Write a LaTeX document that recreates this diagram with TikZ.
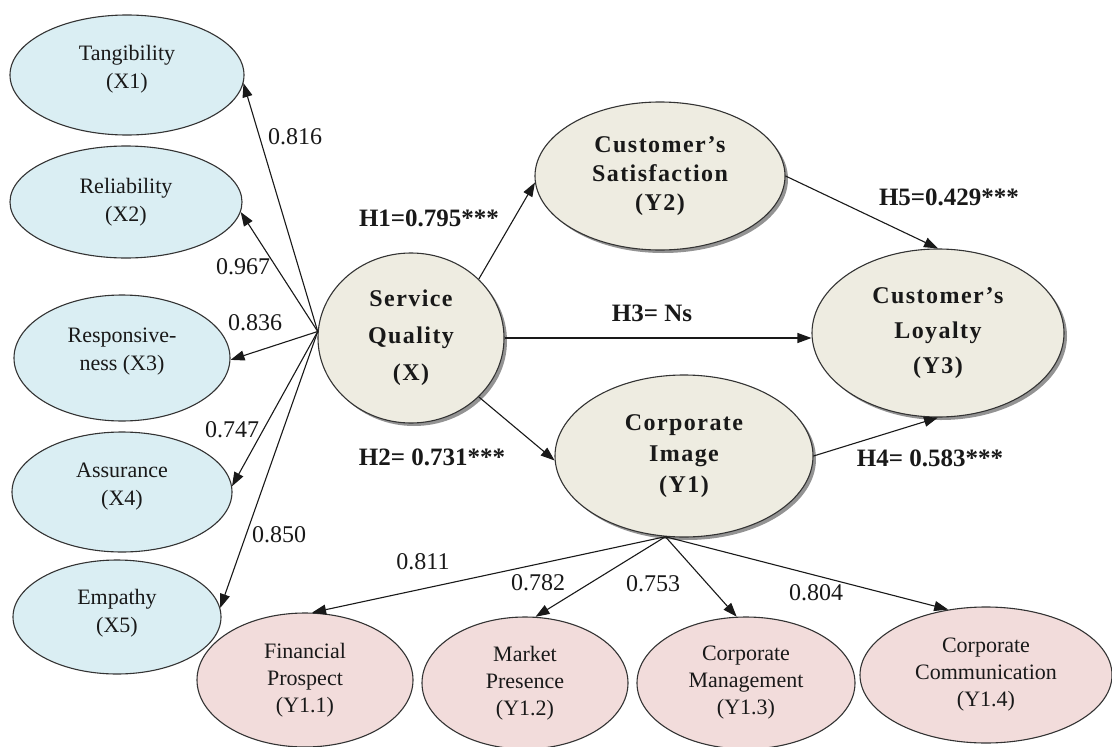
\documentclass[tikz,border=0pt]{standalone}
\usepackage{fontspec}
\setmainfont{Liberation Serif}
\newfontfamily\spacedbf[LetterSpace=6]{Liberation Serif}
\usetikzlibrary{arrows.meta,shapes.geometric,shadows}
\definecolor{blueF}{HTML}{DAEEF3}
\definecolor{beigeF}{HTML}{EEECE1}
\definecolor{pinkF}{HTML}{F2DCDB}
\begin{document}
\begin{tikzpicture}[x=1pt,y=-1pt,
  base/.style={ellipse,draw=black!80,line width=1.1pt,inner sep=0pt,align=center,text=black!90},
  xnode/.style={base,fill=blueF,font=\fontsize{22}{28}\selectfont},
  ynode/.style={base,fill=pinkF,font=\fontsize{22}{27}\selectfont},
  latent/.style={base,fill=beigeF,drop shadow={shadow xshift=3pt,shadow yshift=-3pt,fill=black!70,opacity=0.6},font=\spacedbf\bfseries\fontsize{24}{#1}\selectfont},
  arr/.style={-{Triangle[length=14pt,width=10pt]},line width=1.1pt,draw=black!90},
  load/.style={font=\fontsize{24}{26}\selectfont,inner sep=0pt,text=black!90},
  hyp/.style={font=\bfseries\fontsize{25}{26}\selectfont,inner sep=0pt,text=black!90}]
\useasboundingbox (0,0) rectangle (1112,747);
\fill[white] (0,0) rectangle (1112,747);

% indicator nodes of X
\node[xnode,minimum width=234pt,minimum height=120pt] (tang) at (127,75) {Tangibility\\(X1)\\[-12pt]};
\node[xnode,minimum width=232pt,minimum height=112pt] (rel) at (126,202) {Reliability\\(X2)};
\node[xnode,minimum width=216pt,minimum height=126pt] (resp) at (122,358) {Responsive-\\ness (X3)\\[-10pt]};
\node[xnode,minimum width=220pt,minimum height=120pt] (assu) at (122,492) {Assurance\\(X4)\\[-12pt]};
\node[xnode,minimum width=208pt,minimum height=114pt] (emp) at (117,617) {Empathy\\(X5)\\[-16pt]};

% latent nodes
\node[latent=37,minimum width=186pt,minimum height=170pt] (sq) at (411,338) {Service\\Quality\\(X)};
\node[latent=29,minimum width=250pt,minimum height=148pt] (y2) at (660,176) {Customer’s\\Satisfaction\\(Y2)};
\node[latent=35,minimum width=252pt,minimum height=168pt] (y3) at (938,333) {Customer’s\\Loyalty\\(Y3)};
\node[latent=31,minimum width=258pt,minimum height=162pt] (y1) at (684,456) {Corporate\\Image\\(Y1)};

% indicator nodes of Y1
\node[ynode,minimum width=216pt,minimum height=134pt] (fp) at (305,680) {Financial\\Prospect\\(Y1.1)};
\node[ynode,minimum width=206pt,minimum height=132pt] (mp) at (525,683) {Market\\Presence\\(Y1.2)};
\node[ynode,minimum width=218pt,minimum height=132pt] (cm) at (746,683) {Corporate\\Management\\(Y1.3)};
\node[ynode,minimum width=252pt,minimum height=136pt] (cc) at (986,675) {Corporate\\Communication\\(Y1.4)};

% connectors
\coordinate (sqw) at (sq.176);
\draw[arr] (sqw) -- (tang.-4);
\draw[arr] (sqw) -- (rel.-5);
\draw[arr] (sqw) -- (resp.-1);
\draw[arr] (sqw) -- (assu.3);
\draw[arr] (sqw) -- (emp.5);

\draw[arr] (sq.41) -- (y2.183);
\draw[arr] (sq.east) -- (sq.east -| y3.west);
\draw[arr] (sq.-41) -- (y1.182);
\draw[arr] (y2.east) -- (y3.north);
\draw[arr] (y1.east) -- (y3.south);

\coordinate (y1s) at (y1.-103);
\draw[arr] (y1s) -- (fp.84);
\draw[arr] (y1s) -- (mp.81);
\draw[arr] (y1s) -- (cm.98);
\draw[arr] (y1s) -- (cc.120);

% labels
\node[load] (l1) at (295,137) {0.816};
\node[load] (l2) at (243,267) {0.967};
\node[load] (l3) at (255,323) {0.836};
\node[load] (l4) at (232,430) {0.747};
\node[load] (l5) at (279,535) {0.850};
\node[load] (l6) at (423,562) {0.811};
\node[load] (l7) at (538,583) {0.782};
\node[load] (l8) at (653,584) {0.753};
\node[load] (l9) at (816,593) {0.804};

\node[hyp] (h1) at (429,218) {H1=0.795***};
\node[hyp] (h2) at (432,457) {H2= 0.731***};
\node[hyp] (h3) at (652,313) {H3= Ns};
\node[hyp] (h4) at (930,458) {H4= 0.583***};
\node[hyp] (h5) at (949,197) {H5=0.429***};
\end{tikzpicture}
\end{document}
